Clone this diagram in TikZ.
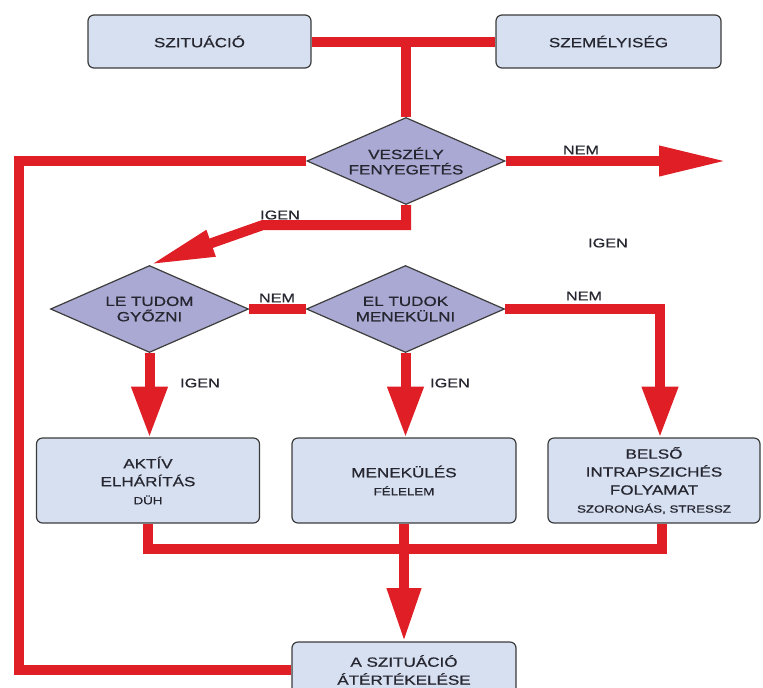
\documentclass[tikz,border=0pt]{standalone}
\usepackage{fontspec}
\setmainfont{Liberation Sans}[FakeStretch=1.28, FakeBold=0.7]
\usetikzlibrary{shapes.geometric,arrows.meta,calc}
\definecolor{conred}{HTML}{E01E26}
\definecolor{boxfill}{HTML}{D6E0F0}
\definecolor{diafill}{HTML}{A9A9D3}
\definecolor{edge}{HTML}{3C3C3C}
\definecolor{txt}{HTML}{262630}
\pgfdeclarelayer{background}
\pgfsetlayers{background,main}
\tikzset{
  bigbox/.style={draw=edge, line width=0.9pt, fill=boxfill, rounded corners=4.5pt,
    align=center, inner sep=0pt, text=txt,
    font=\fontsize{10}{13.5}\selectfont},
  decision/.style={diamond, draw=edge, line width=0.9pt, fill=diafill, inner sep=0pt,
    aspect=2.3, minimum width=148.5pt, minimum height=65.25pt, align=center, text=txt,
    font=\fontsize{10}{11.5}\selectfont},
  conn/.style={draw=conred, line width=7.5pt},
  bigarrow/.style={conn, -{Triangle[width=25.5pt,length=38pt]}},
  lbl/.style={text=txt, font=\fontsize{9.5}{11}\selectfont, inner sep=0pt},
}
\newcommand{\smalltxt}{\fontsize{7.8}{13.5}\selectfont}
\begin{document}
\begin{tikzpicture}[x=0.75pt, y=-0.75pt]
\useasboundingbox (0,0) rectangle (763,687);

% boxes
\node[bigbox, minimum width=167.25pt, minimum height=39.75pt] (sit) at (199.5,41.5) {SZITUÁCIÓ};
\node[bigbox, minimum width=168.75pt, minimum height=39.75pt] (szem) at (608.5,41.5) {SZEMÉLYISÉG};
\node[decision] (vesz) at (406,161) {VESZÉLY\\FENYEGETÉS};
\node[decision] (le) at (149.5,309) {LE TUDOM\\GYŐZNI};
\node[decision] (el) at (405.5,309) {EL TUDOK\\MENEKÜLNI};
\node[bigbox, minimum width=167.25pt, minimum height=63.75pt] (akt) at (148,480.5) {AKTÍV\\ELHÁRÍTÁS\\{\smalltxt DÜH}};
\node[bigbox, minimum width=168pt, minimum height=63.75pt] (men) at (404,480.5) {MENEKÜLÉS\\{\smalltxt FÉLELEM}};
\node[bigbox, minimum width=159pt, minimum height=63.75pt] (bel) at (654,480.5) {BELSŐ\\INTRAPSZICHÉS\\FOLYAMAT\\{\smalltxt SZORONGÁS, STRESSZ}};
\node[bigbox, minimum width=168pt, minimum height=42pt] (rev) at (404,670) {A SZITUÁCIÓ\\ÁTÉRTÉKELÉSE};

% free ends
\coordinate (loopTL) at (19,161);
\coordinate (nemEnd) at (727,161);
\coordinate (igenBend) at (263,225);
\coordinate (belIn) at ($(bel.north)+(6,0)$);
\coordinate (belOut) at ($(bel.south)+(8,0)$);

% labels
\node[lbl] (l1) at (581,150) {NEM};
\node[lbl] (l2) at (280,215) {IGEN};
\node[lbl] (l3) at (608,243) {IGEN};
\node[lbl] (l4) at (277,298) {NEM};
\node[lbl] (l5) at (584,296) {NEM};
\node[lbl] (l6) at (200,383) {IGEN};
\node[lbl] (l7) at (450,383) {IGEN};

\begin{pgfonlayer}{background}
  \fill[white] (0,0) rectangle (763,687);
  \draw[conn] (sit.east) -- (szem.west);
  \draw[conn] (vesz.north) -- (vesz.north |- sit.east);
  \draw[conn] (vesz.west) -- (loopTL) |- (rev.west);
  \draw[conn, -{Triangle[width=21pt,length=51pt]}] (vesz.east) -- (nemEnd);
  \draw[conn, -{Triangle[width=19pt,length=49pt]}] (vesz.south) |- (igenBend) -- (le.north);
  \draw[conn] (le.east) -- (el.west);
  \draw[bigarrow] (el.east) -| (belIn);
  \draw[bigarrow] (le.south) -- (le.south |- akt.north);
  \draw[bigarrow] (el.south) -- (el.south |- men.north);
  \draw[conn] (akt.south) -- ++(0,25) -| (belOut);
  \draw[conn, -{Triangle[width=24pt,length=40pt]}] (men.south) -- (rev.north);
\end{pgfonlayer}
\end{tikzpicture}
\end{document}
